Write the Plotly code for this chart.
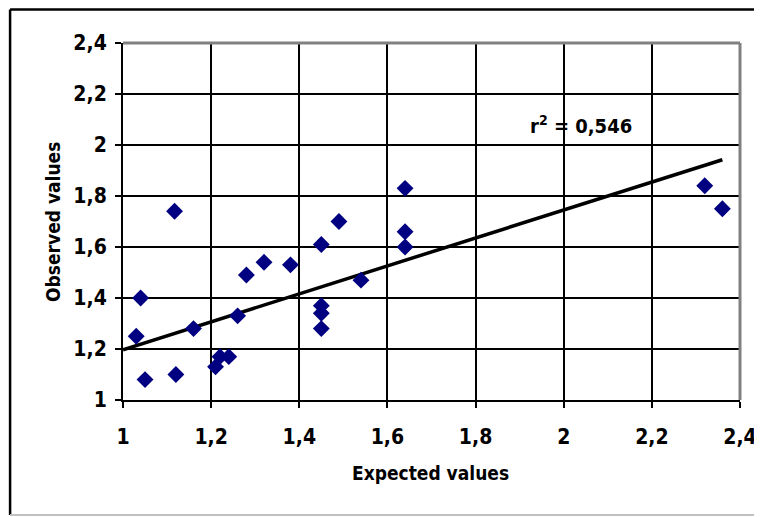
import plotly.graph_objects as go

expected = [1.117, 1.04, 1.03, 1.05, 1.12, 1.16, 1.21, 1.22, 1.24, 1.26, 1.28, 1.32,
            1.38, 1.45, 1.45, 1.45, 1.45, 1.49, 1.54, 1.64, 1.64, 1.64, 2.32, 2.36]
observed = [1.74, 1.40, 1.25, 1.08, 1.10, 1.28, 1.13, 1.17, 1.17, 1.33, 1.49, 1.54,
            1.53, 1.61, 1.37, 1.34, 1.28, 1.70, 1.47, 1.66, 1.60, 1.83, 1.84, 1.75]
tick_vals = [1, 1.2, 1.4, 1.6, 1.8, 2, 2.2, 2.4]
# linear trend line coefficients (as shown in the original chart)
trend_slope = 0.548
trend_intercept = 0.649
trend_x_range = [1.0, 2.36]
r2_label = "r<sup>2</sup> = 0,546"

line_y = [trend_intercept + trend_slope * v for v in trend_x_range]

FONT = "DejaVu Sans Condensed, Liberation Sans Narrow, Arial Narrow, sans-serif"

fig = go.Figure()
fig.add_trace(go.Scatter(x=trend_x_range, y=line_y, mode="lines",
                         line=dict(color="black", width=3.5), hoverinfo="skip"))
fig.add_trace(go.Scatter(x=expected, y=observed, mode="markers",
                         marker=dict(symbol="diamond", size=13, color="#000080",
                                     line=dict(width=0))))

axis_common = dict(
    range=[1, 2.4], tickvals=tick_vals, showgrid=True, gridcolor="black", gridwidth=2,
    showline=True, linecolor="black", linewidth=2, ticks="outside", ticklen=6,
    tickcolor="black", tickwidth=2, zeroline=False, automargin=False,
    tickfont=dict(family=FONT, size=21, color="black", weight="bold"),
)

# page body has an 8px margin, so the figure is sized 8px smaller to fit the window
fig.update_layout(
    width=754, height=509,
    margin=dict(l=115, r=22, t=35, b=117),
    paper_bgcolor="white", plot_bgcolor="white",
    showlegend=False,
    separators=", ",
    font=dict(family=FONT, color="black"),
    xaxis=dict(**axis_common, ticklabelstandoff=11),
    yaxis=dict(**axis_common, ticklabelstandoff=4),
    annotations=[
        dict(text="<b>" + r2_label + "</b>", x=0.742, y=0.770, xref="paper", yref="paper",
             xanchor="center", yanchor="middle",
             showarrow=False, font=dict(family=FONT, size=20, color="black")),
        dict(text="<b>Expected values</b>", x=0.4976, y=-0.2045, xref="paper", yref="paper",
             xanchor="center", yanchor="middle",
             showarrow=False, font=dict(family=FONT, size=19, color="black")),
        dict(text="<b>Observed values</b>", x=-0.1135, y=0.4986, xref="paper", yref="paper",
             xanchor="center", yanchor="middle",
             showarrow=False, textangle=-90, font=dict(family=FONT, size=19, color="black")),
    ],
    shapes=[
        # plot area top/right gray border
        dict(type="line", xref="paper", yref="paper", x0=0, x1=1, y0=1, y1=1,
             line=dict(color="#808080", width=3)),
        dict(type="line", xref="paper", yref="paper", x0=1, x1=1, y0=0, y1=1,
             line=dict(color="#808080", width=3)),
        # outer chart border
        dict(type="line", xref="paper", yref="paper", x0=-0.183, x1=1.06, y0=1.094, y1=1.094,
             line=dict(color="black", width=2.5)),
        dict(type="line", xref="paper", yref="paper", x0=-0.183, x1=-0.183, y0=-0.322, y1=1.094,
             line=dict(color="black", width=2.5)),
        dict(type="line", xref="paper", yref="paper", x0=-0.183, x1=1.06, y0=-0.322, y1=-0.322,
             line=dict(color="#c0c0c0", width=2)),
    ],
)

fig.write_html("out.html")
